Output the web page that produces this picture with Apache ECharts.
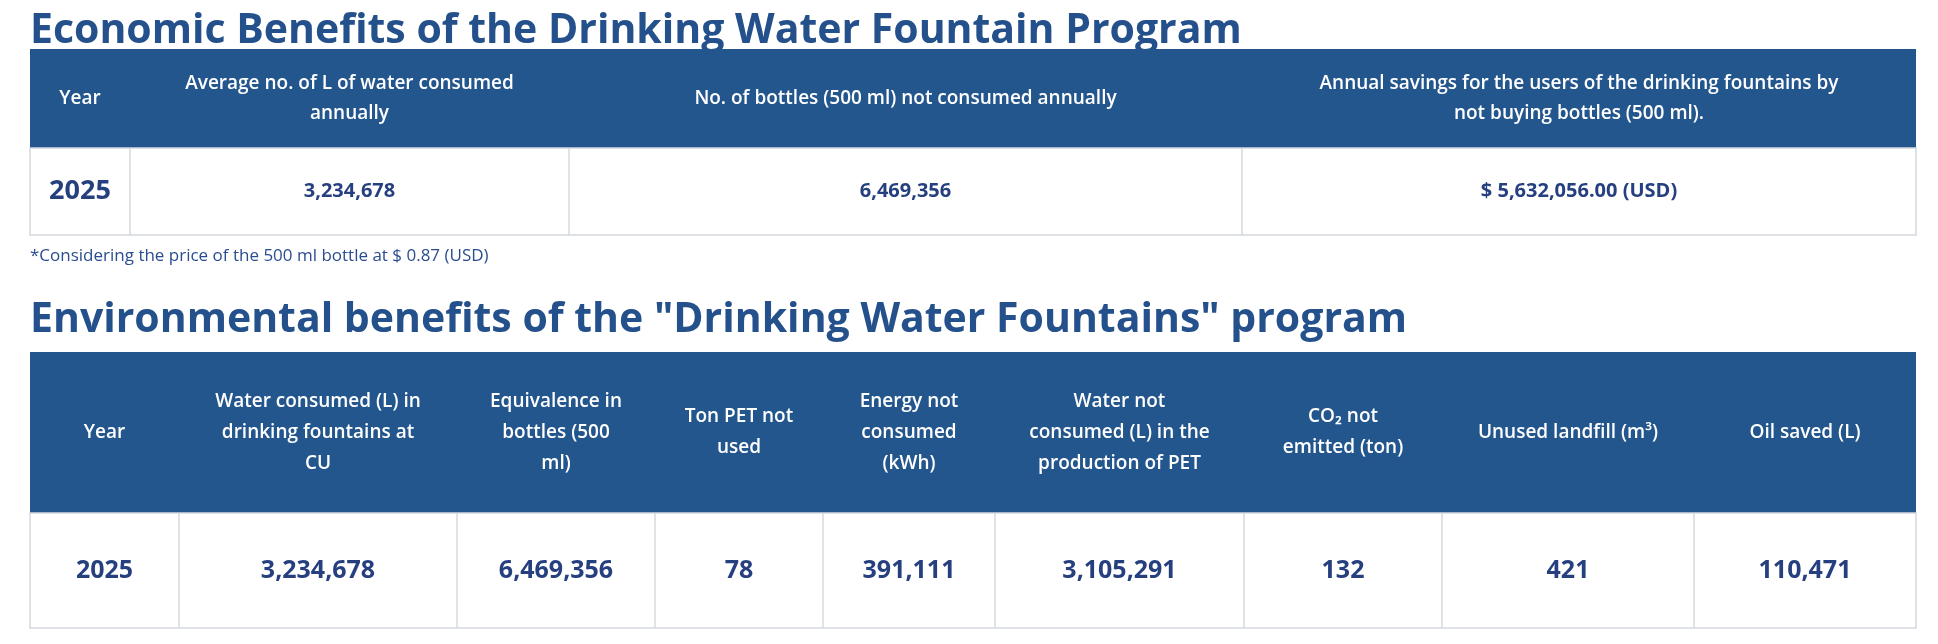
<!DOCTYPE html>
<html><head><meta charset="utf-8">
<script src="https://cdn.jsdelivr.net/npm/echarts@6/dist/echarts.min.js"></script>
<style>html,body{margin:0;background:#fff}#c{width:1938px;height:644px}</style>
</head><body><div id="c"></div>
<script>
const title1 = "Economic Benefits of the Drinking Water Fountain Program";
const headers1 = ["Year", "Average no. of L of water consumed\nannually", "No. of bottles (500 ml) not consumed annually", "Annual savings for the users of the drinking fountains by\nnot buying bottles (500 ml)."];
const row1 = ["2025", "3,234,678", "6,469,356", "$ 5,632,056.00 (USD)"];
const footnote = "*Considering the price of the 500 ml bottle at $ 0.87 (USD)";
const title2 = "Environmental benefits of the \"Drinking Water Fountains\" program";
const headers2 = ["Year", "Water consumed (L) in\ndrinking fountains at\nCU", "Equivalence in\nbottles (500\nml)", "Ton PET not\nused", "Energy not\nconsumed\n(kWh)", "Water not\nconsumed (L) in the\nproduction of PET", "CO₂ not\nemitted (ton)", "Unused landfill (m³)", "Oil saved (L)"];
const row2 = ["2025", "3,234,678", "6,469,356", "78", "391,111", "3,105,291", "132", "421", "110,471"];

const edges1 = [30, 130, 569, 1242, 1916];
const edges2 = [30, 179, 457, 655, 823, 995, 1244, 1442, 1694, 1916];
const BLUE = '#24568e', DARK = '#263f7f', GRID = '#d4d8de';
const FONT = '"Open Sans", Lato, sans-serif';

function table(edges, headers, row, y0, hH, rH, hFont, hLH, rFont, yearFont) {
  const els = [];
  const x0 = edges[0], x1 = edges[edges.length - 1];
  els.push({type:'rect', shape:{x:x0, y:y0, width:x1-x0, height:hH}, style:{fill:BLUE}});
  els.push({type:'rect', shape:{x:x0, y:y0+hH, width:x1-x0, height:rH}, style:{fill:'#fff', stroke:GRID, lineWidth:1.5}});
  for (let i = 1; i < edges.length - 1; i++)
    els.push({type:'line', shape:{x1:edges[i], y1:y0+hH, x2:edges[i], y2:y0+hH+rH}, style:{stroke:GRID, lineWidth:1.5}});
  headers.forEach((h, i) => {
    const cx = (edges[i] + edges[i+1]) / 2;
    els.push({type:'text', x:cx, y:y0+hH/2, style:{text:h, fill:'#fff', font:'600 '+hFont+'px '+FONT, align:'center', verticalAlign:'middle', lineHeight:hLH}});
    els.push({type:'text', x:cx, y:y0+hH+rH/2, style:{text:row[i], fill:DARK, font:'bold '+(i===0?yearFont:rFont)+'px '+FONT, align:'center', verticalAlign:'middle'}});
  });
  return els;
}

const graphic = [
  {type:'text', x:30, y:31, style:{text:title1, fill:'#24508c', font:'bold 41px '+FONT, verticalAlign:'middle'}},
  ...table(edges1, headers1, row1, 49, 99, 87, 19, 30, 20, 27),
  {type:'text', x:30, y:256, style:{text:footnote, fill:'#2a4d8f', font:'17px '+FONT, verticalAlign:'middle'}},
  {type:'text', x:30, y:320, style:{text:title2, fill:'#24508c', font:'bold 41px '+FONT, verticalAlign:'middle'}},
  ...table(edges2, headers2, row2, 352, 161, 115, 19, 31, 25, 25)
];

const chart = echarts.init(document.getElementById('c'));
chart.setOption({animation:false, graphic: graphic});
</script></body></html>
